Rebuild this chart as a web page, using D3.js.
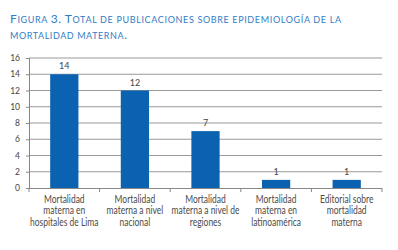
<!DOCTYPE html>
<html lang="es">
<head>
    <meta charset="UTF-8">
    <title>Figura 3</title>
    <script src="https://d3js.org/d3.v7.min.js"></script>
    <style>
        body { margin: 0; background: #fff; }
        .title { font-family: Lato, sans-serif; fill: #2f7dc6; }
        .axis text { font-family: Lato, sans-serif; font-size: 8.5px; fill: #444; }
        .cat { font-family: Lato, sans-serif; font-size: 10.6px; fill: #4a4a4a; }
    </style>
</head>
<body>
    <div id="chart"></div>
    <script>
        // data
        const categories = [
            ["Mortalidad", "materna en", "hospitales de Lima"],
            ["Mortalidad", "materna a nivel", "nacional"],
            ["Mortalidad", "materna a nivel de", "regiones"],
            ["Mortalidad", "materna en", "latinoamérica"],
            ["Editorial sobre", "mortalidad", "materna"]
        ];
        const values = [14, 12, 7, 1, 1];
        const yTicks = [0, 2, 4, 6, 8, 10, 12, 14, 16];
        const titleLines = ["Figura 3. Total de publicaciones sobre epidemiología de la", "mortalidad materna."];

        const width = 398, height = 250;
        const margin = {left: 29, right: 16, top: 58, bottom: 62};

        const svg = d3.select("#chart").append("svg")
            .attr("width", width)
            .attr("height", height);

        // title in small caps, built by hand
        const titleLen = [331, 117];
        titleLines.forEach((line, li) => {
            const t = svg.append("text")
                .attr("class", "title")
                .attr("x", 10)
                .attr("y", 23 + li * 16)
                .attr("textLength", titleLen[li])
                .attr("lengthAdjust", "spacing");
            // split into runs of big / small letters
            const runs = [];
            for (const ch of line) {
                const big = ch !== ch.toLowerCase() || /[0-9.]/.test(ch);
                const last = runs[runs.length - 1];
                if (last && last.big === big) last.s += ch;
                else runs.push({big: big, s: ch});
            }
            t.selectAll("tspan")
                .data(runs)
                .enter()
                .append("tspan")
                .style("font-size", d => d.big ? "12px" : "9px")
                .text(d => d.s.toUpperCase());
        });

        const x = d3.scaleBand()
            .domain(d3.range(values.length))
            .range([margin.left, width - margin.right])
            .paddingInner(0.6)
            .paddingOuter(0.3);

        const y = d3.scaleLinear()
            .domain([0, 16])
            .range([height - margin.bottom, margin.top]);

        // gridlines
        svg.append("g")
            .selectAll("line")
            .data(yTicks.slice(1))
            .enter()
            .append("line")
            .attr("x1", margin.left)
            .attr("x2", width - margin.right)
            .attr("y1", d => y(d))
            .attr("y2", d => y(d))
            .attr("stroke", "#999")
            .attr("stroke-width", 1);

        // y axis
        const yAxis = svg.append("g")
            .attr("class", "axis")
            .attr("transform", `translate(${margin.left},0)`)
            .call(d3.axisLeft(y).tickValues(yTicks).tickSize(3).tickPadding(6));
        yAxis.selectAll("line, path").attr("stroke", "#888");

        // bars
        svg.selectAll("rect")
            .data(values)
            .enter()
            .append("rect")
            .attr("x", (d, i) => x(i))
            .attr("width", x.bandwidth())
            .attr("y", d => y(d))
            .attr("height", d => y(0) - y(d))
            .attr("fill", "#0a62b0");

        // value labels
        svg.selectAll("text.val")
            .data(values)
            .enter()
            .append("text")
            .attr("class", "val")
            .attr("x", (d, i) => x(i) + x.bandwidth() / 2)
            .attr("y", d => y(d) - 5)
            .attr("text-anchor", "middle")
            .style("font-family", "Lato, sans-serif")
            .style("font-size", "9px")
            .style("fill", "#444")
            .text(d => d);

        // x axis with ticks between categories
        const bounds = d3.range(values.length + 1).map(i => margin.left + i * (width - margin.left - margin.right) / values.length);
        svg.append("line")
            .attr("x1", margin.left).attr("x2", width - margin.right)
            .attr("y1", y(0) + 0.5).attr("y2", y(0) + 0.5)
            .attr("stroke", "#888");
        svg.selectAll("line.xt")
            .data(bounds)
            .enter()
            .append("line")
            .attr("class", "xt")
            .attr("x1", d => d).attr("x2", d => d)
            .attr("y1", y(0)).attr("y2", y(0) + 4)
            .attr("stroke", "#888");

        // category labels (condensed a bit horizontally)
        const cat = svg.selectAll("text.cat")
            .data(categories)
            .enter()
            .append("text")
            .attr("class", "cat")
            .attr("text-anchor", "middle")
            .attr("transform", (d, i) => `translate(${x(i) + x.bandwidth() / 2},${y(0) + 15}) scale(0.8,1)`);
        cat.selectAll("tspan")
            .data(d => d)
            .enter()
            .append("tspan")
            .attr("x", 0)
            .attr("dy", (d, i) => i === 0 ? 0 : 11.5)
            .text(d => d);
    </script>
</body>
</html>
